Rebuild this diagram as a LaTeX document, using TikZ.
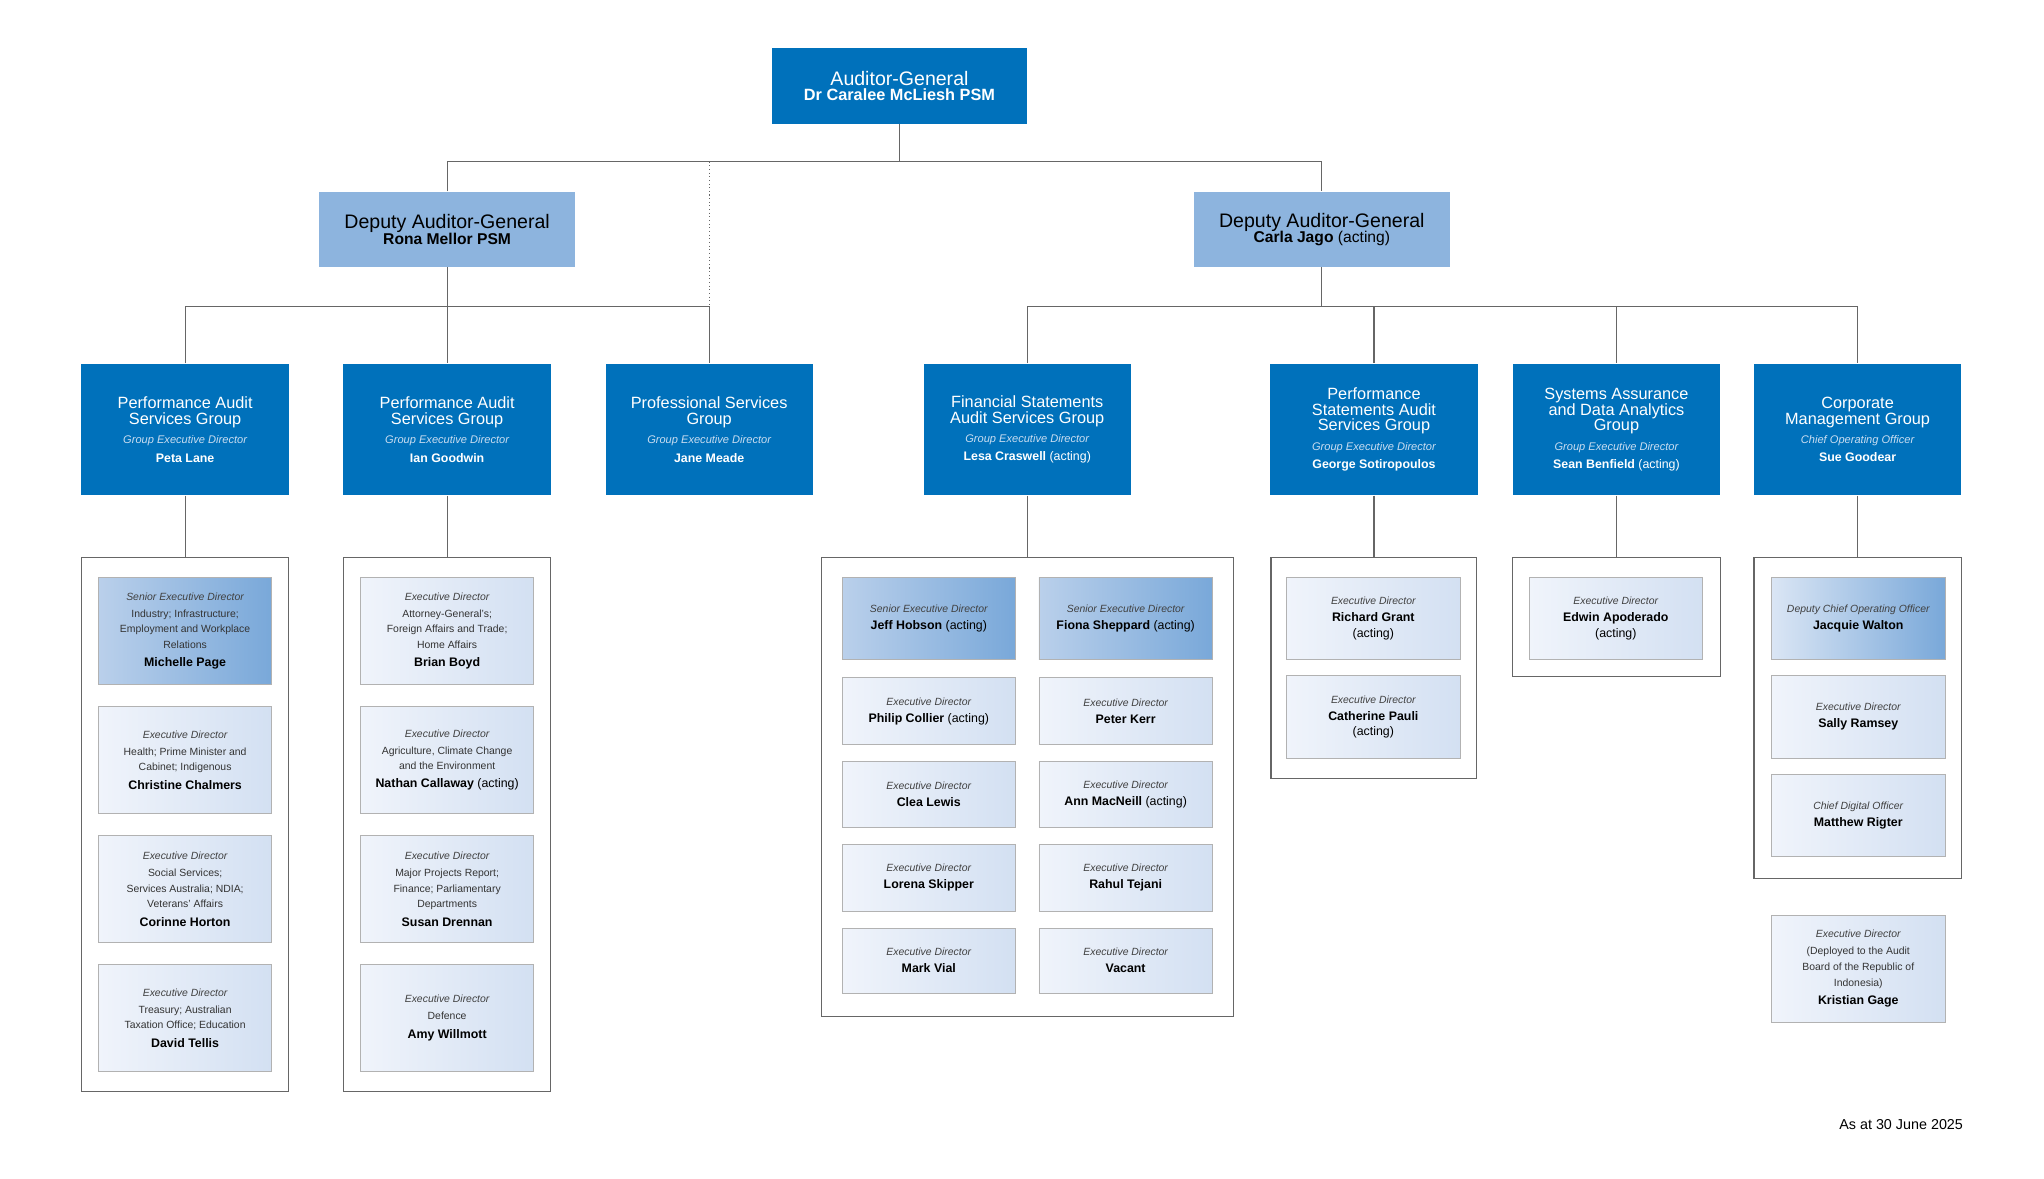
\documentclass[tikz,border=0pt]{standalone}
\usepackage{fontspec}
\setmainfont{Liberation Sans}
\begin{document}
\definecolor{ablue}{HTML}{0071BB}
\definecolor{dblue}{HTML}{8DB4DE}
\definecolor{lta}{HTML}{F0F4FB}
\definecolor{ltb}{HTML}{D3E0F2}
\definecolor{sra}{HTML}{BAD0EB}
\definecolor{srb}{HTML}{79A8D9}
\definecolor{gline}{HTML}{666666}
\definecolor{grole}{HTML}{C9DDF1}
\newcommand\gt{\fontsize{12.5}{13.5}\selectfont}
\newcommand\gr{\fontsize{8.5}{10}\selectfont\itshape\color{grole}}
\newcommand\gn{\fontsize{9.5}{11}\selectfont\bfseries}
\newcommand\ir{\fontsize{8}{9.5}\selectfont\itshape\color{black!75}}
\newcommand\idsc{\fontsize{8}{9}\selectfont\color{black!80}}
\newcommand\inm{\fontsize{9.5}{11}\selectfont\bfseries}
\newcommand\inrm{\fontsize{9.5}{11}\selectfont\mdseries}
\begin{tikzpicture}[x=1pt,y=-1pt,
  top/.style={fill=ablue,text=white,minimum width=196,minimum height=58,align=center,inner sep=0},
  dep/.style={fill=dblue,text=black,minimum width=196,minimum height=58,align=center,inner sep=0},
  grp/.style={fill=ablue,text=white,minimum width=159,minimum height=101,align=center,inner sep=0},
  cont/.style={draw=gline,line width=0.8pt,fill=white,inner sep=0},
  lt/.style={draw=black!30,line width=0.6pt,left color=lta,right color=ltb,minimum width=133,align=center,inner sep=0},
  sr/.style={draw=black!30,line width=0.6pt,left color=sra,right color=srb,minimum width=133,align=center,inner sep=0},
  ln/.style={draw=gline,line width=0.8pt}]
\useasboundingbox (0,0) rectangle (1568,904);

\node[top] (ag) at (690,66) {{\fontsize{15}{17}\selectfont Auditor-General}\\{\fontsize{12.5}{14}\selectfont\bfseries Dr Caralee McLiesh PSM}};
\node[dep] (d1) at (343,176) {{\fontsize{15}{17}\selectfont Deputy Auditor-General}\\{\fontsize{12}{14}\selectfont\bfseries Rona Mellor PSM}};
\node[dep] (d2) at (1014,176) {{\fontsize{15}{17}\selectfont Deputy Auditor-General}\\{\fontsize{12}{14}\selectfont\bfseries Carla Jago \mdseries(acting)}};

\node[grp] (g1) at (142,329.5) {{\gt Performance Audit}\\{\gt Services Group}\\[3pt]{\gr Group Executive Director}\\[2pt]{\gn Peta Lane}};
\node[grp] (g2) at (343,329.5) {{\gt Performance Audit}\\{\gt Services Group}\\[3pt]{\gr Group Executive Director}\\[2pt]{\gn Ian Goodwin}};
\node[grp] (g3) at (544,329.5) {{\gt Professional Services}\\{\gt Group}\\[3pt]{\gr Group Executive Director}\\[2pt]{\gn Jane Meade}};
\node[grp] (g4) at (788,329.5) {{\gt Financial Statements}\\{\gt Audit Services Group}\\[3pt]{\gr Group Executive Director}\\[2pt]{\gn Lesa Craswell \mdseries(acting)}};
\node[grp] (g5) at (1054,329.5) {{\gt Performance}\\{\gt Statements Audit}\\{\gt Services Group}\\[3pt]{\gr Group Executive Director}\\[2pt]{\gn George Sotiropoulos}};
\node[grp] (g6) at (1240,329.5) {{\gt Systems Assurance}\\{\gt and Data Analytics}\\{\gt Group}\\[3pt]{\gr Group Executive Director}\\[2pt]{\gn Sean Benfield \mdseries(acting)}};
\node[grp] (g7) at (1425,329.5) {{\gt Corporate}\\{\gt Management Group}\\[3pt]{\gr Chief Operating Officer}\\[2pt]{\gn Sue Goodear}};

% containers
\node[cont,minimum width=159,minimum height=409] (c1) at (142,632.5) {};
\node[cont,minimum width=159,minimum height=409] (c2) at (343,632.5) {};
\node[cont,minimum width=316,minimum height=352] (c3) at (788,604) {};
\node[cont,minimum width=158,minimum height=169] (c4) at (1054,512.5) {};
\node[cont,minimum width=159,minimum height=91] (c5) at (1240,473.5) {};
\node[cont,minimum width=159,minimum height=246] (c6) at (1425,551) {};

% connectors
\coordinate (bus) at (690,124);
\coordinate (b1) at (343,235);
\coordinate (b2) at (1014,235);
\draw[ln] (ag.south) -- (bus);
\draw[ln] (d1.north) |- (bus) -| (d2.north);
\draw[gline,line width=0.8pt,dotted] (544,124) -- (g3.north);
\draw[ln] (d1.south) -- (b1);
\draw[ln] (g1.north) |- (b1) -| (g3.north);
\draw[ln] (b1) -- (g2.north);
\draw[ln] (d2.south) -- (b2);
\draw[ln] (g4.north) |- (b2) -| (g7.north);
\draw[ln] (b2) -| (g5.north);
\draw[ln] (b2) -| (g6.north);
\foreach \g/\c in {g1/c1,g2/c2,g4/c3,g5/c4,g6/c5,g7/c6} \draw[ln] (\g.south) -- (\c.north);

% column 1
\node[sr,minimum height=82] (p1) at (142,484) {{\ir Senior Executive Director}\\[1pt]{\idsc Industry; Infrastructure;}\\{\idsc Employment and Workplace}\\{\idsc Relations}\\[2pt]{\inm Michelle Page}};
\node[lt,minimum height=82] (p2) at (142,583) {{\ir Executive Director}\\[1pt]{\idsc Health; Prime Minister and}\\{\idsc Cabinet; Indigenous}\\[2pt]{\inm Christine Chalmers}};
\node[lt,minimum height=82] (p3) at (142,682) {{\ir Executive Director}\\[1pt]{\idsc Social Services;}\\{\idsc Services Australia; NDIA;}\\{\idsc Veterans' Affairs}\\[2pt]{\inm Corinne Horton}};
\node[lt,minimum height=82] (p4) at (142,781) {{\ir Executive Director}\\[1pt]{\idsc Treasury; Australian}\\{\idsc Taxation Office; Education}\\[2pt]{\inm David Tellis}};
% column 2
\node[lt,minimum height=82] (q1) at (343,484) {{\ir Executive Director}\\[1pt]{\idsc Attorney-General's;}\\{\idsc Foreign Affairs and Trade;}\\{\idsc Home Affairs}\\[2pt]{\inm Brian Boyd}};
\node[lt,minimum height=82] (q2) at (343,583) {{\ir Executive Director}\\[1pt]{\idsc Agriculture, Climate Change}\\{\idsc and the Environment}\\[2pt]{\inm Nathan Callaway \inrm(acting)}};
\node[lt,minimum height=82] (q3) at (343,682) {{\ir Executive Director}\\[1pt]{\idsc Major Projects Report;}\\{\idsc Finance; Parliamentary}\\{\idsc Departments}\\[2pt]{\inm Susan Drennan}};
\node[lt,minimum height=82] (q4) at (343,781) {{\ir Executive Director}\\[1pt]{\idsc Defence}\\[2pt]{\inm Amy Willmott}};
% financial statements
\node[sr,minimum height=63] (f1) at (712.5,474.5) {{\ir Senior Executive Director}\\[1pt]{\inm Jeff Hobson \inrm(acting)}};
\node[sr,minimum height=63] (f2) at (863.5,474.5) {{\ir Senior Executive Director}\\[1pt]{\inm Fiona Sheppard \inrm(acting)}};
\node[lt,minimum height=51] (f3) at (712.5,545.5) {{\ir Executive Director}\\[1pt]{\inm Philip Collier \inrm(acting)}};
\node[lt,minimum height=51] (f4) at (863.5,545.5) {{\ir Executive Director}\\[1pt]{\inm Peter Kerr}};
\node[lt,minimum height=51] (f5) at (712.5,609.5) {{\ir Executive Director}\\[1pt]{\inm Clea Lewis}};
\node[lt,minimum height=51] (f6) at (863.5,609.5) {{\ir Executive Director}\\[1pt]{\inm Ann MacNeill \inrm(acting)}};
\node[lt,minimum height=51] (f7) at (712.5,673.5) {{\ir Executive Director}\\[1pt]{\inm Lorena Skipper}};
\node[lt,minimum height=51] (f8) at (863.5,673.5) {{\ir Executive Director}\\[1pt]{\inm Rahul Tejani}};
\node[lt,minimum height=50] (f9) at (712.5,737) {{\ir Executive Director}\\[1pt]{\inm Mark Vial}};
\node[lt,minimum height=50] (f10) at (863.5,737) {{\ir Executive Director}\\[1pt]{\inm Vacant}};
% performance statements
\node[lt,minimum height=63] (s1) at (1053.5,474.5) {{\ir Executive Director}\\[1pt]{\inm Richard Grant}\\{\inrm (acting)}};
\node[lt,minimum height=64] (s2) at (1053.5,550) {{\ir Executive Director}\\[1pt]{\inm Catherine Pauli}\\{\inrm (acting)}};
% systems assurance
\node[lt,minimum height=63] (a1) at (1239.5,474.5) {{\ir Executive Director}\\[1pt]{\inm Edwin Apoderado}\\{\inrm (acting)}};
% corporate
\node[sr,minimum height=63,left color=lta!60!sra,right color=srb] (m1) at (1425.5,474.5) {{\ir Deputy Chief Operating Officer}\\[1pt]{\inm Jacquie Walton}};
\node[lt,minimum height=64] (m2) at (1425.5,550) {{\ir Executive Director}\\[1pt]{\inm Sally Ramsey}};
\node[lt,minimum height=63] (m3) at (1425.5,625.5) {{\ir Chief Digital Officer}\\[1pt]{\inm Matthew Rigter}};
\node[lt,minimum height=82] (m4) at (1425.5,743) {{\ir Executive Director}\\[1pt]{\idsc (Deployed to the Audit}\\{\idsc Board of the Republic of}\\{\idsc Indonesia)}\\[2pt]{\inm Kristian Gage}};

\node[anchor=east,inner sep=0,font=\fontsize{11}{13}\selectfont] (asat) at (1506,863) {As at 30 June 2025};
\end{tikzpicture}
\end{document}
